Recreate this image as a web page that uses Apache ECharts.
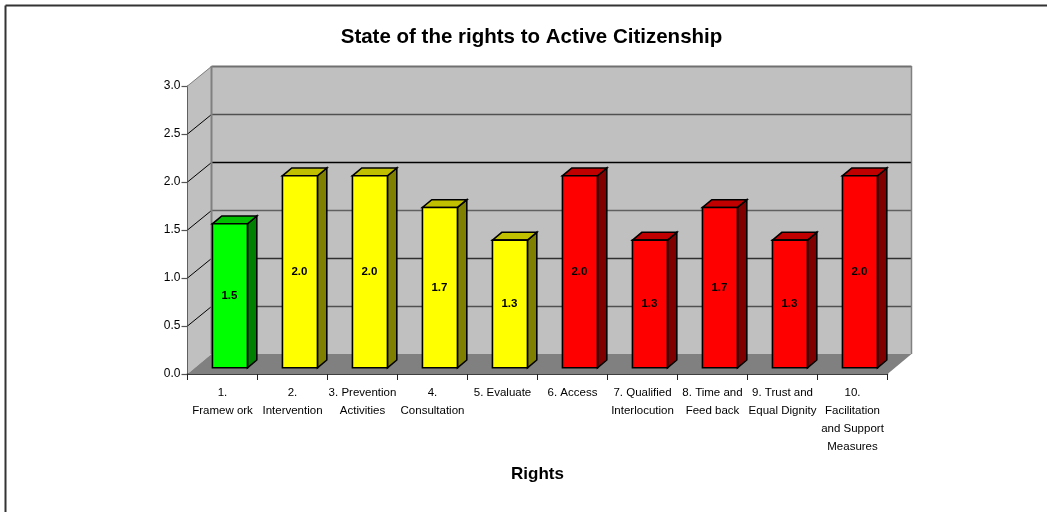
<!DOCTYPE html>
<html>
<head>
<meta charset="utf-8">
<style>html,body{margin:0;padding:0;background:#fff}#chart{width:1047px;height:512px}</style>
<script src="https://cdn.jsdelivr.net/npm/echarts@6/dist/echarts.min.js"></script>
</head>
<body>
<div id="chart"></div>
<script>
const categories = ['1.\nFramew ork', '2.\nIntervention', '3. Prevention\nActivities', '4.\nConsultation', '5. Evaluate', '6. Access', '7. Qualified\nInterlocution', '8. Time and\nFeed back', '9. Trust and\nEqual Dignity', '10.\nFacilitation\nand Support\nMeasures'];
const values = [1.5, 2.0, 2.0, 1.67, 1.33, 2.0, 1.33, 1.67, 1.33, 2.0];
const valueLabels = ['1.5', '2.0', '2.0', '1.7', '1.3', '2.0', '1.3', '1.7', '1.3', '2.0'];
const gridValues = [0, 0.5, 1, 1.5, 2, 2.5, 3];
const gridColours = ['#808080', '#505050', '#303030', '#606060', '#000000', '#505050', '#707070'];
const palette = {
  green: ['#00ff00', '#00c000', '#008000'],
  yellow: ['#ffff00', '#c0c000', '#808000'],
  red: ['#ff0000', '#c00000', '#800000']
};
const barColourKeys = ['green', 'yellow', 'yellow', 'yellow', 'yellow', 'red', 'red', 'red', 'red', 'red'];

const DX = 24, DY = -20;          // depth of the 3-D floor
const BAR_W = 35;                 // bar front width
const D0 = 0.31, D1 = 0.70;       // bar's depth span, as fraction of the floor depth
const ff = '"Liberation Sans", Arial, sans-serif';

function poly(pts, fill, stroke, lw) {
  return { type: 'polygon', shape: { points: pts },
    style: { fill: fill, stroke: stroke || null, lineWidth: lw || 0, lineJoin: 'miter' } };
}
function line(a, b, stroke, lw) {
  return { type: 'line', shape: { x1: a[0], y1: a[1], x2: b[0], y2: b[1] },
    style: { stroke: stroke, lineWidth: lw || 1 } };
}
function renderWalls(params, api) {
  const c = params.coordSys;
  const x0 = c.x, x1 = c.x + c.width;
  const y0 = api.coord([0, 0])[1], y3 = api.coord([0, 3])[1];
  const kids = [];
  kids.push(poly([[x0, y0], [x0 + DX, y0 + DY], [x0 + DX, y3 + DY], [x0, y3]], '#c0c0c0'));
  kids.push(poly([[x0 + DX, y0 + DY], [x1 + DX, y0 + DY], [x1 + DX, y3 + DY], [x0 + DX, y3 + DY]], '#c0c0c0'));
  kids.push(poly([[x0, y0], [x1, y0], [x1 + DX, y0 + DY], [x0 + DX, y0 + DY]], '#808080'));
  gridValues.forEach(function (v, i) {
    const y = api.coord([0, v])[1];
    if (v > 0) {
      kids.push(line([x0, y], [x0 + DX, y + DY + 0.5], v === 3 ? '#808080' : '#000000', 1));
      kids.push(line([x0 + DX, y + DY + 0.5], [x1 + DX, y + DY + 0.5], gridColours[i], v === 3 ? 2 : 1.4));
    }
  });
  kids.push(line([x0 + DX, y0 + DY], [x0 + DX, y3 + DY], '#808080', 2));
  kids.push(line([x1 + DX, y0 + DY], [x1 + DX, y3 + DY], '#808080', 1.5));
  return { type: 'group', children: kids };
}
function renderBar(params, api) {
  const i = api.value(0), v = api.value(1);
  const base = api.coord([i, 0]), top = api.coord([i, v]);
  const cols = palette[barColourKeys[i]];
  const fx = base[0] - BAR_W / 2 + DX * D0;
  const by = base[1] + DY * D0, ty = top[1] + DY * D0;
  const dx = DX * (D1 - D0), dy = DY * (D1 - D0);
  const r = fx + BAR_W;
  const s = '#000000';
  return { type: 'group', children: [
    poly([[r, by], [r + dx, by + dy], [r + dx, ty + dy], [r, ty]], cols[2], s, 1.6),
    poly([[fx, ty], [r, ty], [r + dx, ty + dy], [fx + dx, ty + dy]], cols[1], s, 1.6),
    poly([[fx, by], [r, by], [r, ty], [fx, ty]], cols[0], s, 1.6),
    { type: 'text', style: { text: valueLabels[i], x: fx + BAR_W / 2 - 0.5, y: (by + ty) / 2,
        align: 'center', verticalAlign: 'middle', fill: '#000',
        font: 'bold 11.5px ' + ff } }
  ]};
}

const chart = echarts.init(document.getElementById('chart'), null, { renderer: 'canvas' });
chart.setOption({
  animation: false,
  backgroundColor: '#ffffff',
  title: {
    text: 'State of the rights to Active Citizenship',
    left: 526.5, top: 22, textAlign: 'center',
    textStyle: { fontFamily: ff, fontSize: 20.5, fontWeight: 'bold', color: '#000' }
  },
  graphic: [
    { type: 'line', shape: { x1: 5.5, y1: 5.5, x2: 1047, y2: 5.5 }, style: { stroke: '#333', lineWidth: 2 } },
    { type: 'line', shape: { x1: 5.5, y1: 5.5, x2: 5.5, y2: 512 }, style: { stroke: '#333', lineWidth: 2 } }
  ],
  grid: { left: 187.5, right: 159.5, top: 86, bottom: 138, containLabel: false },
  xAxis: {
    type: 'category', data: categories, boundaryGap: true,
    name: 'Rights', nameLocation: 'middle', nameGap: 92,
    nameTextStyle: { fontFamily: ff, fontSize: 17, fontWeight: 'bold', color: '#000' },
    axisLine: { show: true, lineStyle: { color: '#000', width: 1.5 } },
    axisTick: { show: true, length: 6, inside: false, lineStyle: { color: '#222' } },
    axisLabel: { interval: 0, margin: 10, color: '#000', fontFamily: ff, fontSize: 11.5, lineHeight: 18, verticalAlign: 'top' },
    splitLine: { show: false }
  },
  yAxis: {
    type: 'value', min: 0, max: 3, interval: 0.5,
    axisLine: { show: true, lineStyle: { color: '#000', width: 1 } },
    axisTick: { show: true, length: 6, lineStyle: { color: '#555', width: 1.2 } },
    axisLabel: { margin: 7, color: '#000', fontFamily: ff, fontSize: 12,
      formatter: function (v) { return v.toFixed(1); } },
    splitLine: { show: false }
  },
  series: [
    { type: 'custom', silent: true, clip: false, z: 1, renderItem: renderWalls, data: [[0, 0]], encode: { x: 0, y: 1 } },
    { type: 'custom', silent: true, clip: false, z: 2, renderItem: renderBar,
      data: values.map(function (v, i) { return [i, v]; }), encode: { x: 0, y: 1 } }
  ]
});
</script>
</body>
</html>
